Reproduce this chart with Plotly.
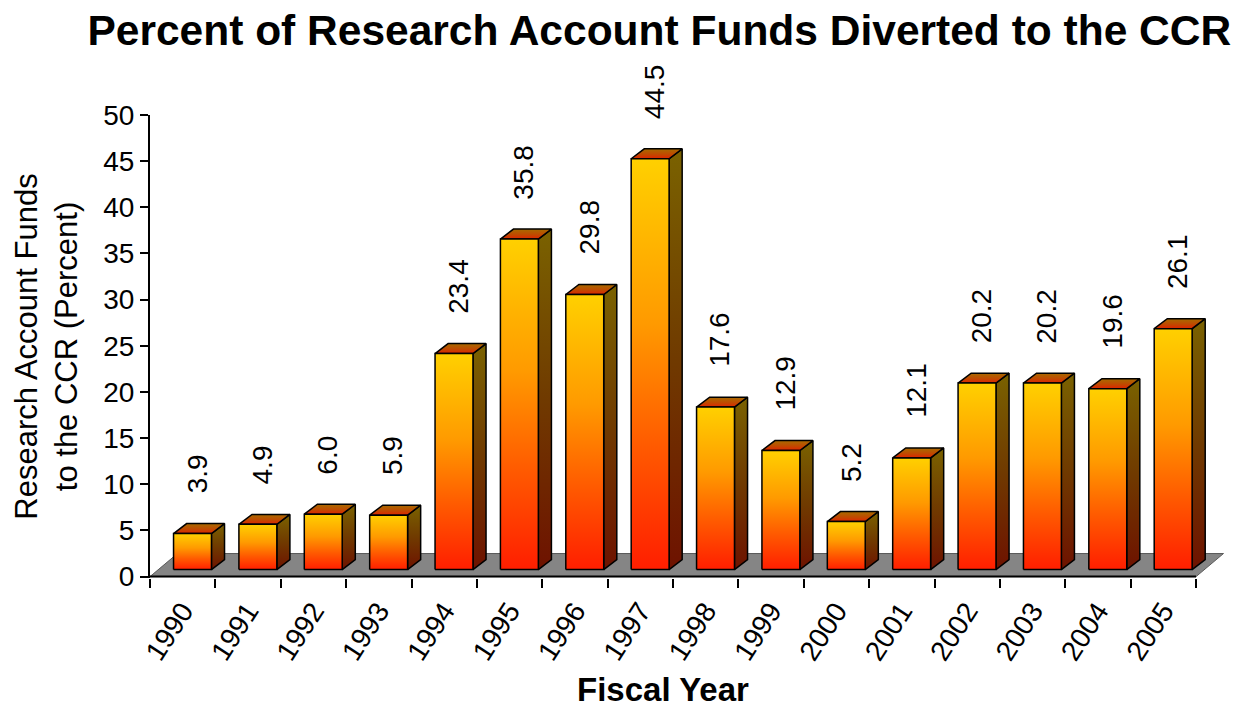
import plotly.graph_objects as go

# ---- data ----
years = ["1990", "1991", "1992", "1993", "1994", "1995", "1996", "1997",
         "1998", "1999", "2000", "2001", "2002", "2003", "2004", "2005"]
percent = [3.9, 4.9, 6.0, 5.9, 23.4, 35.8, 29.8, 44.5,
           17.6, 12.9, 5.2, 12.1, 20.2, 20.2, 19.6, 26.1]
y_ticks = [0, 5, 10, 15, 20, 25, 30, 35, 40, 45, 50]

# ---- 3D styling (axis units) ----
BASE = 0.76      # bar base height above floor front
XL, XR = -0.14, 0.44   # front face extent relative to category center
DX, DY = 0.20, 1.08    # bar depth offset
FDX, FDY = 0.42, 2.5   # floor depth offset
LBL_DX, LBL_GAP = 0.22, 4.1

FONT = "Liberation Sans, Arial, sans-serif"

front_cs = [[0, "#FF1E00"], [0.3, "#FF5A00"], [0.6, "#FF9A00"], [1, "#FFD000"]]
side_cs = [[0, "#6E1200"], [0.5, "#703A00"], [1, "#7A6200"]]
top_cs = [[0, "#E02400"], [0.45, "#C04A00"], [1, "#A86C00"]]

fig = go.Figure()

# floor
fig.add_trace(go.Scatter(
    x=[-0.5, 15.5, 15.5 + FDX, -0.5 + FDX, -0.5],
    y=[0, 0, FDY, FDY, 0],
    mode="lines", fill="toself", fillcolor="#858585",
    line=dict(color="#5A5A5A", width=1),
    hoverinfo="skip", showlegend=False))

for i, v in enumerate(percent):
    xl, xr = i + XL, i + XR
    b, t = BASE, BASE + v
    # side face
    fig.add_trace(go.Scatter(
        x=[xr, xr + DX, xr + DX, xr, xr], y=[b, b + DY, t + DY, t, b],
        mode="lines", fill="toself",
        fillgradient=dict(type="vertical", colorscale=side_cs, start=b, stop=t + DY),
        line=dict(color="black", width=1.5),
        hoverinfo="skip", showlegend=False))
    # top face
    fig.add_trace(go.Scatter(
        x=[xl, xr, xr + DX, xl + DX, xl], y=[t, t, t + DY, t + DY, t],
        mode="lines", fill="toself",
        fillgradient=dict(type="vertical", colorscale=top_cs, start=t, stop=t + DY),
        line=dict(color="black", width=1.5),
        hoverinfo="skip", showlegend=False))
    # front face
    fig.add_trace(go.Scatter(
        x=[xl, xr, xr, xl, xl], y=[b, b, t, t, b],
        mode="lines", fill="toself",
        fillgradient=dict(type="vertical", colorscale=front_cs, start=b, stop=t),
        line=dict(color="black", width=1.5),
        hoverinfo="skip", showlegend=False))
    fig.add_annotation(
        x=i + LBL_DX, y=t + LBL_GAP, text=f"{v:.1f}", textangle=-90,
        showarrow=False, xanchor="center", yanchor="bottom",
        font=dict(family=FONT, size=28, color="black"))

# x axis line along front of floor
fig.add_shape(type="line", xref="x", yref="y", x0=-0.5, x1=15.5, y0=0, y1=0,
              line=dict(color="black", width=2))

# x axis title (centred under the chart title, as in the original)
fig.add_annotation(
    text="Fiscal Year", xref="paper", yref="paper",
    x=(663 - 150) / 1082, y=-(709 - 578) / 463,
    xanchor="center", yanchor="bottom", showarrow=False, borderpad=0,
    font=dict(family=FONT, size=33, color="black", weight="bold"))

fig.update_layout(
    width=1244, height=711,
    margin=dict(l=150, r=12, t=115, b=133, autoexpand=False),
    paper_bgcolor="white", plot_bgcolor="white",
    showlegend=False,
    title=dict(text="Percent of Research Account Funds Diverted to the CCR",
               x=0.53, xref="container", xanchor="center",
               y=0.958, yref="container", yanchor="middle",
               font=dict(family=FONT, size=42.5, color="black", weight="bold")),
    xaxis=dict(
        range=[-0.5, 16.05], tickvals=list(range(len(years))), ticktext=years,
        ticks="", showline=False, showgrid=False, zeroline=False,
        automargin=False,
        tickangle=-57, ticklabelstandoff=10,
        tickfont=dict(family=FONT, size=28, color="black"),
        minor=dict(tickvals=[k - 0.5 for k in range(len(years) + 1)],
                   ticks="outside", ticklen=9, tickwidth=2, tickcolor="black",
                   showgrid=False)),
    yaxis=dict(
        range=[-0.15, 50], tickvals=y_ticks,
        ticks="outside", ticklen=8, tickwidth=2, tickcolor="black",
        showline=True, linecolor="black", linewidth=2,
        showgrid=False, zeroline=False, automargin=False,
        tickfont=dict(family=FONT, size=28, color="black"),
        title=dict(text="Research Account Funds<br>to the CCR (Percent)", standoff=16,
                   font=dict(family=FONT, size=31, color="black"))),
)

fig.write_html("out.html")
